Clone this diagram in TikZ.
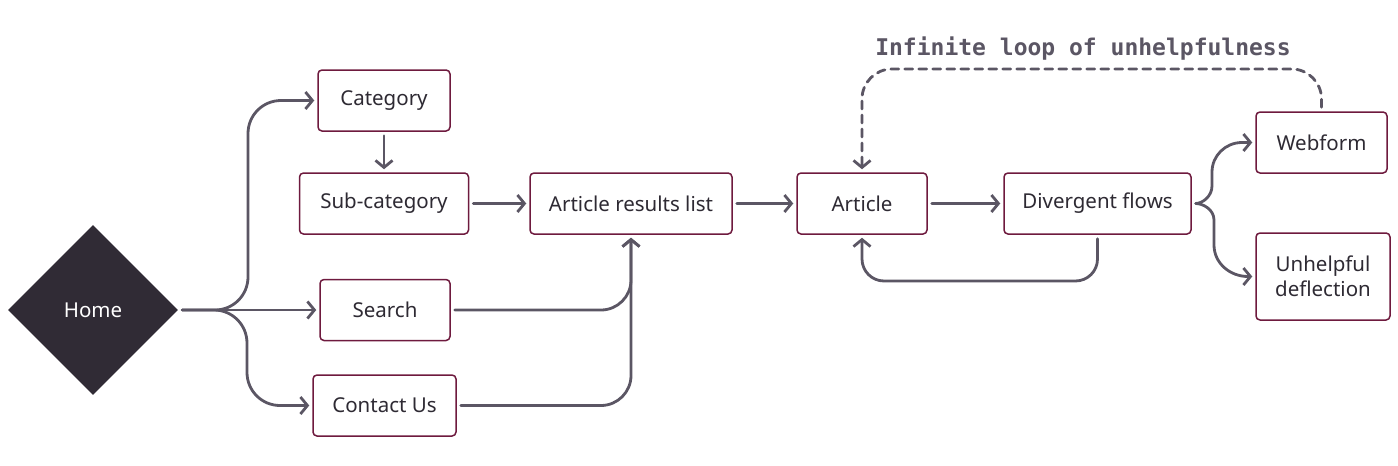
\documentclass[tikz,border=0pt]{standalone}
\usepackage{fontspec}
\setmainfont{Noto Sans}
\newfontfamily\labelmono{DejaVu Sans Mono}
\usetikzlibrary{arrows.meta,shapes.geometric}
\definecolor{boxline}{HTML}{6E1A3E}
\definecolor{flow}{HTML}{5B5664}
\definecolor{ink}{HTML}{2E2A33}
\definecolor{homefill}{HTML}{302B35}
\begin{document}
\begin{tikzpicture}[x=1pt,y=-1pt,
  stepbox/.style={draw=boxline, line width=1.5pt, rounded corners=4pt, fill=white, text=ink,
    font=\fontsize{20.5}{25}\selectfont, inner sep=0pt, align=center, minimum height=61pt},
  flowline/.style={draw=flow, line width=2.8pt, line cap=round,
    -{Straight Barb[length=7pt,width=17pt,line width=2.8pt]},
    shorten <=4pt, shorten >=3pt, rounded corners=30pt},
]
\useasboundingbox (0,0) rectangle (1398,466);

\node[diamond, fill=homefill, minimum width=170pt, minimum height=170pt, inner sep=0pt,
  text=white, font=\fontsize{20.5}{22}\selectfont] (home) at (93,310) {Home};
\node[stepbox, minimum width=132pt] (cat) at (384,100.5) {Category};
\node[stepbox, minimum width=169pt] (sub) at (384,203.5) {Sub-category};
\node[stepbox, minimum width=130pt] (search) at (385,310) {Search};
\node[stepbox, minimum width=143pt] (contact) at (384.5,405.5) {Contact Us};
\node[stepbox, minimum width=202pt] (arl) at (631,203.5) {Article results list};
\node[stepbox, minimum width=130pt] (art) at (862,203.5) {Article};
\node[stepbox, minimum width=187pt] (div) at (1097.5,203.5) {Divergent flows};
\node[stepbox, minimum width=131pt] (web) at (1321.5,142.5) {Webform};
\node[stepbox, minimum width=134pt, minimum height=87pt] (unh) at (1323,276.5) {Unhelpful\\deflection};
\node[text=flow, font=\labelmono\bfseries\fontsize{23}{26}\selectfont] (loop) at (1083,49) {Infinite loop of unhelpfulness};

% Home branches
\draw[flowline, rounded corners=33pt] (home.east) -- (248,310) -- (248,100.5) -- (cat.west);
\draw[flowline] (home.east) -- (search.west);
\draw[flowline, rounded corners=33pt] (home.east) -- (247,310) -- (247,405.5) -- (contact.west);

\draw[flowline] (cat.south) -- (sub.north);
\draw[flowline] (sub.east) -- (arl.west);
\draw[flowline] (search.east) -- (631,310) -- (arl.south);
\draw[flowline] (contact.east) -- (631,405.5) -- (arl.south);
\draw[flowline] (arl.east) -- (art.west);
\draw[flowline] (art.east) -- (div.west);
\draw[flowline, rounded corners=22pt] (div.south) -- (1097.5,281) -- (862,281) -- (art.south);

% brace split
\draw[flowline, sharp corners] (div.east) to[out=0,in=-90] (1212,186) -- (1212,172)
  to[out=90,in=180] (1242,142.5) -- (web.west);
\draw[flowline, sharp corners] (div.east) to[out=0,in=90] (1214,220) -- (1214,245)
  to[out=-90,in=180] (1248,276.5) -- (unh.west);

% dashed loop
\draw[flowline, dash pattern=on 8pt off 6pt, rounded corners=30pt] (web.north) -- (1321.5,69) -- (862,69) -- (art.north);
\end{tikzpicture}
\end{document}
